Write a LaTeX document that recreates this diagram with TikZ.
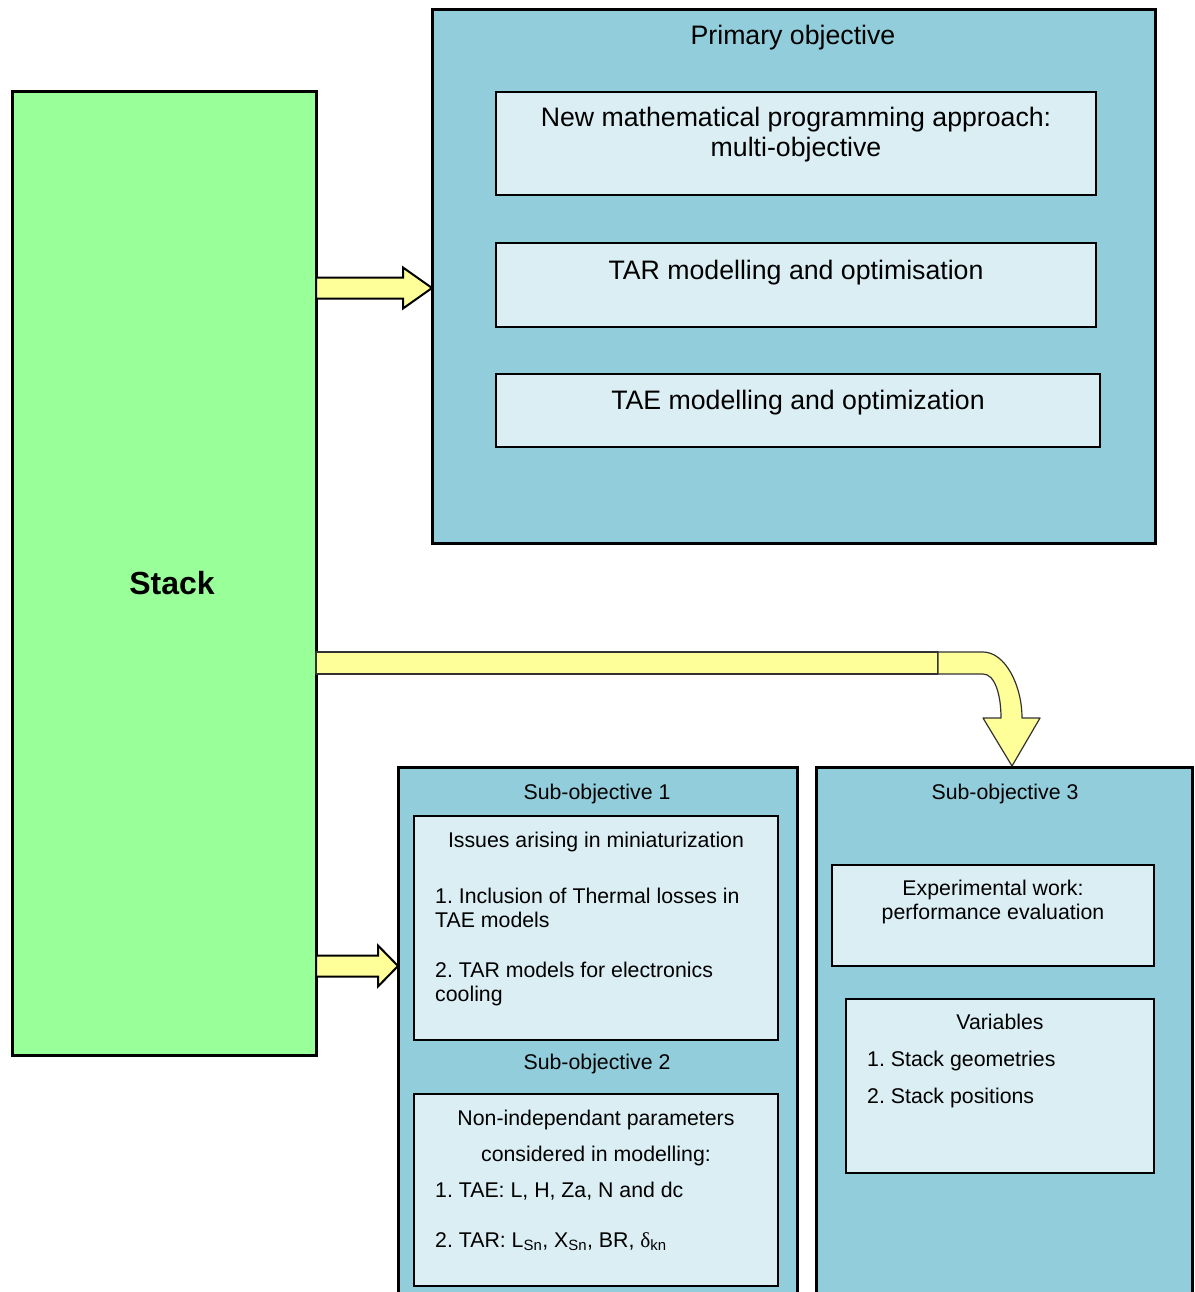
\documentclass[tikz,border=0pt]{standalone}
\usepackage{fontspec}
\setmainfont{Liberation Sans}
\newfontfamily\greekfont{Liberation Serif}
\usetikzlibrary{calc}
\frenchspacing

\definecolor{stackgreen}{HTML}{99FF99}
\definecolor{panelblue}{HTML}{92CDDC}
\definecolor{cardblue}{HTML}{DAEEF3}
\definecolor{arrowyellow}{HTML}{FFFF99}

\tikzset{
  panel/.style={draw=black, line width=3pt, fill=panelblue, anchor=north west, inner sep=0pt, outer sep=0pt},
  card/.style={draw=black, line width=1.8pt, fill=cardblue, anchor=north west, inner sep=0pt, outer sep=0pt},
  stackbox/.style={draw=black, line width=3pt, fill=stackgreen, anchor=north west, inner sep=0pt, outer sep=0pt},
  bigtxt/.style={font=\fontsize{26.7}{30}\selectfont, inner sep=0pt, anchor=base},
  smalltxt/.style={font=\frenchspacing\fontsize{21.3}{25}\selectfont, inner sep=0pt, anchor=base},
  lefttxt/.style={smalltxt, anchor=base west},
  blockarrow/.style={draw=black, line width=2pt, fill=arrowyellow, line join=miter},
  bentarrow/.style={draw=black!80, line width=1.2pt, fill=arrowyellow, line join=round},
}

% straight block arrow: #1 tail, #2 tip, #3 head length
\newcommand\blockarrow[3]{%
  \draw[blockarrow] let \p1=(#1), \p2=(#2) in
    (\x1,\y1+10.5pt) -- (\x2-#3,\y1+10.5pt) -- (\x2-#3,\y1+20.5pt) -- (\x2,\y1)
    -- (\x2-#3,\y1-20.5pt) -- (\x2-#3,\y1-10.5pt) -- (\x1,\y1-10.5pt) -- cycle;}

\begin{document}
\frenchspacing
\begin{tikzpicture}[x=1pt, y=-1pt]
\useasboundingbox (0,0) rectangle (1194,1292);
\clip (0,0) rectangle (1194,1292);

% left block
\node[stackbox, minimum width=304pt, minimum height=963pt] (stack) at (12,92) {};
\node[font=\bfseries\fontsize{32}{35}\selectfont, inner sep=0pt, anchor=base] (stacklbl) at (172,594) {Stack};

% primary objective panel
\node[panel, minimum width=723pt, minimum height=533pt] (prim) at (432,10) {};
\node[bigtxt] (primlbl) at (793,45) {Primary objective};
\node[card, minimum width=600pt, minimum height=103pt] (mp) at (496,92) {};
\node[bigtxt] (mpa) at (796,127) {New mathematical programming approach:};
\node[bigtxt] (mpb) at (796,157) {multi-objective};
\node[card, minimum width=600pt, minimum height=84pt] (tar) at (496,243) {};
\node[bigtxt] (tarlbl) at (796,279) {TAR modelling and optimisation};
\node[card, minimum width=604pt, minimum height=73pt] (tae) at (496,374) {};
\node[bigtxt] (taelbl) at (798,409) {TAE modelling and optimization};

% sub-objectives 1 and 2
\node[panel, minimum width=399pt, minimum height=560pt] (sub12) at (398,767) {};
\node[smalltxt] (s1lbl) at (597,799) {Sub-objective 1};
\node[card, minimum width=364pt, minimum height=224pt] (issues) at (414,816) {};
\node[smalltxt] (issh) at (596,847) {Issues arising in miniaturization};
\node[lefttxt] (iss1a) at (435,903) {1. Inclusion of Thermal losses in};
\node[lefttxt] (iss1b) at (435,927) {TAE models};
\node[lefttxt] (iss2a) at (435,977) {2. TAR models for electronics};
\node[lefttxt] (iss2b) at (435,1001) {cooling};
\node[smalltxt] (s2lbl) at (597,1069) {Sub-objective 2};
\node[card, minimum width=364pt, minimum height=192pt] (params) at (414,1094) {};
\node[smalltxt] (parha) at (596,1125) {Non-independant parameters};
\node[smalltxt] (parhb) at (596,1161) {considered in modelling:};
\node[lefttxt] (par1) at (435,1197) {1. TAE: L, H, Za, N and dc};
\node[lefttxt] (par2) at (435,1247) {2. TAR: L\textsubscript{Sn}, X\textsubscript{Sn}, BR, {\greekfont δ}\textsubscript{kn}};

% sub-objective 3
\node[panel, minimum width=376pt, minimum height=560pt] (sub3) at (816,767) {};
\node[smalltxt] (s3lbl) at (1005,799) {Sub-objective 3};
\node[card, minimum width=322pt, minimum height=101pt] (exper) at (832,865) {};
\node[smalltxt] (expa) at (993,895) {Experimental work:};
\node[smalltxt] (expb) at (993,919) {performance evaluation};
\node[card, minimum width=308pt, minimum height=174pt] (vars) at (846,999) {};
\node[smalltxt] (varh) at (1000,1029) {Variables};
\node[lefttxt] (var1) at (867,1066) {1. Stack geometries};
\node[lefttxt] (var2) at (867,1103) {2. Stack positions};

% straight connectors
\coordinate (a1tail) at (stack.east |- 0,288);
\coordinate (a1tip) at (prim.west |- 0,288);
\blockarrow{a1tail}{a1tip}{29pt}
\coordinate (a2tail) at (stack.east |- 0,966);
\coordinate (a2tip) at (sub12.west |- 0,966);
\blockarrow{a2tail}{a2tip}{20pt}

% bent connector to sub-objective 3
\coordinate (bendjoin) at (938,663);
\coordinate (bendtail) at (stack.east |- bendjoin);
\draw[bentarrow] ($(bendtail)+(0,-11)$) rectangle ($(bendjoin)+(0,11)$);
\begin{scope}[shift={(bendjoin)}]
  \draw[bentarrow] (0,-11) -- (45,-11) .. controls (67,-11) and (84,22) .. (84,55)
    -- (102,55) -- (74,103) -- (45,55) -- (63,55)
    .. controls (63,32) and (57,11) .. (45,11) -- (0,11) -- cycle;
\end{scope}
\end{tikzpicture}
\end{document}
